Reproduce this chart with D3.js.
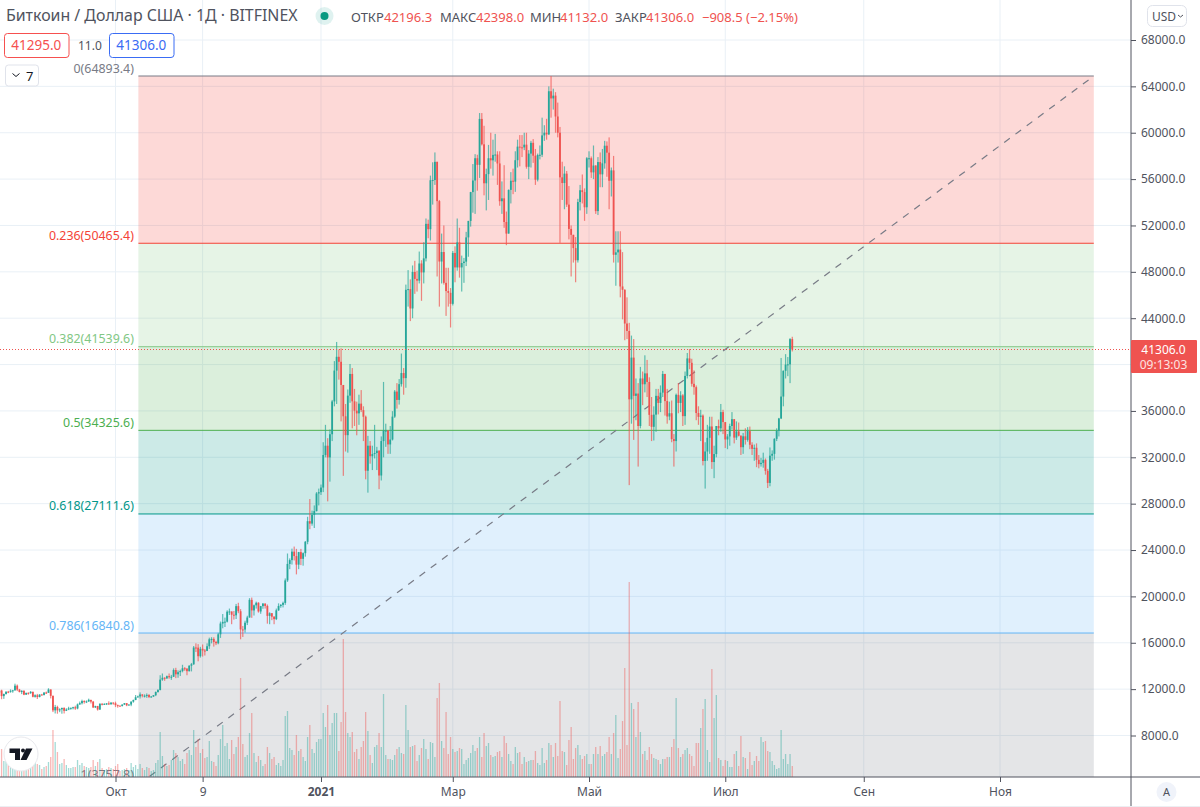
<!DOCTYPE html>
<html>
<head>
<meta charset="utf-8">
<title>BTCUSD</title>
<script src="https://cdn.jsdelivr.net/npm/d3@7"></script>
<style>
  html, body { margin:0; padding:0; background:#fff; }
  svg { display:block; }
  text { font-family:"Noto Sans", Roboto, sans-serif; }
</style>
</head>
<body>
<svg id="chart" width="1200" height="807"></svg>
<script>
// daily candles, 10 Aug 2020 .. 31 Jul 2021, one row per month
var firstDay = Date.UTC(2020, 7, 10)
var firstOpen = 11700

var closes = [
  11880,11400,11580,11780,11770,11860,11900,12300,11960,11750,11860,11520,11680,11660,11770,11340,11470,11320,11530,11480,11710,11680,
  11970,11420,10170,10460,10170,10260,10380,10130,10240,10340,10390,10440,10330,10680,10790,10970,10940,10940,11080,10920,10420,10540,10240,10740,10690,10730,10770,10700,10840,10780,
  10620,10570,10550,10670,10790,10600,10670,10920,11060,11300,11370,11540,11430,11430,11500,11320,11360,11480,11750,11920,12820,12980,12930,13120,13030,13070,13650,13280,13460,13560,13800,
  13760,13550,14020,14150,15590,15580,14840,15480,15330,15300,15700,16300,16330,16070,15960,16730,17660,17800,17820,18680,18700,18420,18370,19160,18720,17150,17140,17730,18180,19700,
  18790,19230,19450,18700,19160,19380,19180,18320,18550,18250,18040,18800,19170,19270,19440,21380,22800,23130,23860,23480,22740,23820,23240,23730,24710,26490,26280,27040,27360,28880,28990,
  29390,32200,33000,31990,33990,36820,39480,40670,40240,38240,35540,33910,37320,39190,36830,36020,35790,36630,36070,35500,30840,33000,32090,32280,32370,32570,30430,33400,34300,34300,33110,
  33530,35510,37670,36950,38310,39270,38830,46450,46510,44840,47990,47390,47240,48720,47950,49160,52140,51680,55900,55920,57490,54100,48890,49710,47050,46340,46190,45240,
  49630,48380,50540,48380,48760,48880,50970,52390,54880,55880,57800,57230,61190,59000,55640,56430,57800,57620,58090,58120,57350,54090,54340,52300,51300,55070,55860,55780,57630,58800,58740,
  58730,58970,57060,58200,59130,58020,55950,58080,58100,59770,60000,59860,63580,62960,63200,61400,60000,56150,55660,56470,53800,51700,51190,50050,49000,54020,55040,54880,53570,57800,
  57800,56580,57170,53240,57470,56410,57360,58880,58280,55860,56750,49470,49680,49920,46740,46450,43540,42900,37000,40600,37300,37500,34700,38800,38300,39240,38500,35660,34630,35680,37300,
  36690,37580,39190,36850,35520,35800,33570,33400,37390,36690,37340,35550,39020,40530,40150,38340,38050,35820,35490,35600,31680,32500,33680,34660,31590,32280,34700,34500,35900,35040,
  33540,33800,34700,35290,33700,34230,33860,32870,33810,33500,34260,33080,32730,32820,31780,31410,31520,31780,30830,29790,32140,32300,33590,34280,35350,37240,39460,40000,40020,42196.3,41306
]
var highs = [
  12060,11950,11620,11800,11850,11980,11940,12470,12400,12020,11900,11890,11690,11720,11830,11780,11550,11590,11560,11590,11720,11790,
  12080,11980,11450,10640,10570,10350,10400,10430,10350,10480,10400,10480,10570,10760,10930,11090,11040,11030,11180,11050,10980,10570,10560,10770,10780,10780,10800,10950,10860,10850,
  10920,10670,10600,10680,10800,10800,10690,10950,11100,11490,11440,11720,11560,11550,11630,11560,11410,11490,11800,12000,13200,13350,13030,13170,13350,13230,13790,13840,13620,13680,14100,
  13900,13820,14060,14260,15720,15950,15880,15650,15850,15460,15950,16440,16480,16470,16170,16860,17830,18480,18170,18800,18950,18700,18740,19350,19450,18900,17450,17900,18330,19850,
  19900,19300,19550,19500,19180,19420,19400,19300,18630,18560,18290,18950,19400,19340,19550,21550,23700,23280,24120,24300,24100,23840,24100,23800,24780,26870,28400,27400,27850,29000,29300,
  29650,33300,34800,33650,34400,36950,40300,41950,41300,41400,38200,36600,37850,40050,39700,37900,36800,37400,37800,36400,35600,33850,33400,33000,34800,32900,32600,33800,38500,34900,34350,
  34700,35980,37800,38400,38750,40950,39700,46900,48150,47350,48550,48950,48100,49750,49000,50550,52600,52500,56300,57450,58300,57500,54200,51300,52000,48350,48350,46600,
  49800,50200,52600,51800,49400,49200,51450,52400,54900,57300,58150,58100,61700,61700,60600,56900,58950,60000,59400,59900,58400,58400,55800,57200,53200,55100,56600,56900,58400,59400,59800,
  59800,60000,60000,58500,59300,59450,58600,58200,58900,61300,60650,61200,64000,64893.4,63800,63500,62600,60500,57500,57100,56700,55400,52000,51200,51000,54300,55500,56400,55200,57900,
  58400,57950,58900,57200,57900,58300,58600,59300,59250,59600,57000,58000,51500,51500,51500,49700,46500,45800,43600,42500,42200,38800,38400,39800,39400,40800,40400,38900,37200,36400,37900,
  37900,38200,39450,39200,37900,36800,36900,34000,37500,38400,37700,37450,39400,41000,41340,40500,39500,38200,36400,36100,35700,33300,34800,35500,35500,33000,34700,35250,36600,36100,
  35000,34000,34900,35900,35300,35100,35000,33900,34100,34500,34600,34650,33300,33100,33200,32200,31950,32400,31900,31000,32850,32600,33650,34500,35400,40570,39500,40900,40650,42280,42398
]
var lows = [
  11480,11130,11160,11530,11650,11690,11690,11860,11830,11720,11570,11480,11520,11520,11590,11290,11270,11150,11290,11480,11480,11580,
  11680,11200,10020,9900,9880,10010,9880,9900,10110,10190,10220,10250,10210,10260,10650,10680,10750,10800,10890,10760,10370,10370,10150,10200,10600,10640,10630,10640,10650,10660,
  10450,10400,10520,10500,10630,10530,10590,10530,10830,11050,11280,11190,11290,11280,11250,11230,11280,11330,11400,11700,11900,12720,12720,12880,12900,12800,13050,12950,12980,13130,13450,
  13580,13200,13520,13530,14090,15200,14400,14720,14810,14900,15280,15470,15950,15670,15800,15870,16420,17250,17360,17750,18400,17600,18000,18050,18550,16300,16500,16880,17530,18170,
  18150,18350,18950,18600,18500,18930,18950,17650,17600,17950,17600,17960,18750,19020,19050,19270,21250,22350,22750,23100,21900,22350,22700,22650,23430,24500,25800,26100,25900,27330,27850,
  28750,29000,32000,28200,29900,33400,36400,36600,38700,35100,30400,32500,32400,36700,34500,34700,33900,34800,35900,33400,30100,28950,31450,30900,31900,30900,29250,30000,32000,32900,32300,
  32300,33450,35400,36200,36550,38100,37400,38000,45000,43750,44000,46100,46300,47000,45500,47000,48900,50900,50700,53800,55500,47600,45000,47000,46900,44200,45000,43200,
  45100,47100,48100,47500,46300,47050,48500,49300,51900,53100,53000,55000,56100,58900,54600,53300,54200,56900,56300,57500,55500,53700,53000,51800,50300,51300,53900,54700,54900,57000,57100,
  57900,58500,56900,56000,57000,57400,55500,55800,57700,57900,59300,59400,59800,61300,62000,60000,59600,50500,54200,53400,53600,50800,47600,48800,47100,48800,53300,53900,52400,53000,
  57000,56100,56000,53000,52900,55300,55300,56900,56200,53400,54500,48800,46800,48800,45800,43900,42100,42200,29600,34900,33500,35200,31200,34500,36500,37600,37200,34700,33400,33450,34200,
  35700,35900,37200,35600,34900,35200,33300,31200,32500,35800,35900,34700,34800,38800,39600,38100,37400,35200,34800,33400,31300,29300,31700,32300,31000,30200,32000,33900,34200,34000,
  32800,32700,33000,34400,33200,33500,33800,32200,32300,33100,33350,32700,32200,31700,31150,31050,31200,31100,30500,29350,29500,31700,31800,33400,33800,35300,36400,38800,39000,38400,41132
]
var volumes = [
  20,28,16,17,12,12,11,22,19,18,13,15,10,9,10,17,16,13,12,8,10,11,
  15,20,47,35,25,13,14,18,12,9,9,10,10,17,12,14,11,10,9,10,17,11,15,18,9,7,8,10,9,8,
  11,13,6,7,8,9,7,14,10,12,8,13,9,7,10,9,6,7,14,17,45,21,13,11,12,17,27,24,20,16,18,
  13,24,27,22,47,30,38,24,28,19,20,36,16,15,11,22,38,52,31,34,18,37,23,30,40,99,33,20,22,44,
  64,24,15,21,17,11,13,30,24,18,20,12,14,11,17,61,66,29,27,22,42,26,28,20,16,40,52,28,24,35,38,
  38,64,50,72,42,54,64,64,26,55,138,65,44,40,45,25,28,18,30,36,65,46,22,14,30,32,44,30,83,22,18,
  18,17,22,28,30,24,23,72,47,30,31,32,16,22,29,38,28,18,35,34,20,79,94,36,29,65,23,40,
  28,25,26,29,28,13,17,19,24,32,26,29,40,20,44,31,34,22,20,21,25,26,20,41,34,23,16,13,30,24,25,
  13,20,15,16,17,17,26,14,12,29,14,17,34,32,20,34,21,76,26,25,12,37,50,18,29,32,22,18,21,23,
  13,13,23,30,23,31,21,23,25,40,23,44,62,19,28,56,109,32,195,74,68,40,75,45,23,26,17,30,23,19,18,
  17,13,18,18,20,20,30,38,79,29,20,23,27,29,23,21,11,34,34,49,68,78,27,15,108,59,82,19,17,11,
  17,16,10,10,23,26,11,41,20,19,8,25,12,16,21,16,40,35,36,26,25,16,12,8,9,47,18,23,13,23,11
]

// fib retracement
var fibRatios = ["0", "0.236", "0.382", "0.5", "0.618", "0.786", "1"]
var fibPrices = [64893.4, 50465.4, 41539.6, 34325.6, 27111.6, 16840.8, 3757.8]
var fibColors = ["#787b86", "#f44336", "#81c784", "#4caf50", "#009688", "#64b5f6", "#787b86"]

var priceTicks = [68000, 64000, 60000, 56000, 52000, 48000, 44000, 40000, 36000, 32000, 28000, 24000, 20000, 16000, 12000, 8000]
var timeTickDays = [[2020,9,1], [2020,10,9], [2021,0,1], [2021,2,1], [2021,4,1], [2021,6,1], [2021,8,1], [2021,10,1]]
var timeTickLabels = ["Окт", "9", "2021", "Мар", "Май", "Июл", "Сен", "Ноя"]

var legendLabels = ["ОТКР", "МАКС", "МИН", "ЗАКР"]
var legendValues = ["42196.3", "42398.0", "41132.0", "41306.0"]

var UP = "#26a69a", DOWN = "#ef5350", TEXT = "#50535e"
var paneW = 1131, paneH = 777

var svg = d3.select("#chart")

var x = d3.scaleUtc()
  .domain([Date.UTC(2020, 9, 1), Date.UTC(2021, 10, 1)])
  .range([115.5, 1000])
var y = d3.scaleLinear()
  .domain([8000, 68000])
  .range([735.5, 40])
var yVol = d3.scaleLinear()
  .domain([0, 195])
  .range([paneH, paneH - 195])

var candles = closes.map(function(c, i) {
  return {
    day: firstDay + i * 864e5,
    open: i ? closes[i - 1] : firstOpen,
    close: c,
    high: highs[i],
    low: lows[i],
    vol: volumes[i]
  }
})
var tickDates = timeTickDays.map(function(d) { return new Date(Date.UTC(d[0], d[1], d[2])) })

svg.append("defs").append("clipPath").attr("id", "pane")
  .append("rect").attr("width", paneW).attr("height", paneH)

var pane = svg.append("g").attr("clip-path", "url(#pane)")

// grid
pane.selectAll(".hgrid").data(priceTicks).enter().append("line")
  .attr("x1", 0).attr("x2", paneW)
  .attr("y1", function(d) { return y(d) }).attr("y2", function(d) { return y(d) })
  .attr("stroke", "#e9f0f6")
pane.selectAll(".vgrid").data(tickDates).enter().append("line")
  .attr("y1", 0).attr("y2", paneH)
  .attr("x1", function(d) { return x(d) }).attr("x2", function(d) { return x(d) })
  .attr("stroke", "#e9f0f6")

// fib bands and lines
var fibStart = Date.UTC(2020, 9, 11, 6), fibEnd = Date.UTC(2021, 11, 13)
var fibIdx = d3.range(fibPrices.length)

pane.selectAll(".band").data(fibIdx.slice(1)).enter().append("rect")
  .attr("x", x(fibStart)).attr("width", x(fibEnd) - x(fibStart))
  .attr("y", function(i) { return y(fibPrices[i - 1]) })
  .attr("height", function(i) { return y(fibPrices[i]) - y(fibPrices[i - 1]) })
  .attr("fill", function(i) { return fibColors[i] })
  .attr("fill-opacity", 0.2)

pane.selectAll(".fibline").data(fibIdx).enter().append("line")
  .attr("x1", x(fibStart)).attr("x2", x(fibEnd))
  .attr("y1", function(i) { return y(fibPrices[i]) }).attr("y2", function(i) { return y(fibPrices[i]) })
  .attr("stroke", function(i) { return fibColors[i] })

pane.selectAll(".fiblabel").data(fibIdx).enter().append("text")
  .attr("x", x(fibStart) - 4.5)
  // the last label is cut by the time axis, kept just clear of its text
  .attr("y", function(i) { return y(fibPrices[i]) - (i === 6 ? 5.5 : 3.5) })
  .attr("text-anchor", "end")
  .attr("font-size", 12.4)
  .attr("fill", function(i) { return fibColors[i] })
  .text(function(i) { return fibRatios[i] + "(" + fibPrices[i].toFixed(1) + ")" })

// trend line of the fib tool
pane.append("line")
  .attr("x1", x(fibStart)).attr("y1", y(fibPrices[6]))
  .attr("x2", x(fibEnd)).attr("y2", y(fibPrices[0]))
  .attr("stroke", "#787b86")
  .attr("stroke-width", 1.2)
  .attr("stroke-dasharray", "7 7")

// volume
pane.selectAll(".vol").data(candles).enter().append("rect")
  .attr("x", function(d) { return x(d.day) - 0.65 })
  .attr("width", 1.3)
  .attr("y", function(d) { return yVol(d.vol) })
  .attr("height", function(d) { return paneH - yVol(d.vol) })
  .attr("fill", function(d) { return d.close >= d.open ? UP : DOWN })
  .attr("fill-opacity", 0.42)

// candles
var candle = pane.selectAll(".candle").data(candles).enter().append("g")
  .attr("fill", function(d) { return d.close >= d.open ? UP : DOWN })
candle.append("rect")
  .attr("x", function(d) { return x(d.day) - 0.6 })
  .attr("width", 1.2)
  .attr("y", function(d) { return y(d.high) })
  .attr("height", function(d) { return y(d.low) - y(d.high) })
  .attr("fill-opacity", 0.7)
candle.append("rect")
  .attr("x", function(d) { return x(d.day) - 0.9 })
  .attr("width", 1.8)
  .attr("y", function(d) { return y(Math.max(d.open, d.close)) })
  .attr("height", function(d) { return Math.max(1, Math.abs(y(d.open) - y(d.close))) })

// last price line
var last = candles[candles.length - 1]
pane.append("line")
  .attr("x1", 0).attr("x2", paneW)
  .attr("y1", 349.5).attr("y2", 349.5)
  .attr("stroke", DOWN)
  .attr("stroke-dasharray", "1 2")

// axes
var priceAxis = d3.axisRight(y)
  .tickValues(priceTicks.filter(function(d) { return d !== 40000 })) // 40000 sits under the price tag
  .tickFormat(function(d) { return d.toFixed(1) })
  .tickSize(5).tickPadding(5)
var gy = svg.append("g").attr("transform", "translate(" + paneW + ",0)").call(priceAxis)
gy.select(".domain").remove()
gy.selectAll("line").attr("stroke", TEXT)
gy.selectAll("text").attr("font-size", 12).attr("fill", TEXT)
  .style("font-family", '"Noto Sans", Roboto, sans-serif')

var timeAxis = d3.axisBottom(x)
  .tickValues(tickDates)
  .tickFormat(function(d, i) { return timeTickLabels[i] })
  .tickSize(5).tickPadding(5)
var gx = svg.append("g").attr("transform", "translate(0," + paneH + ")").call(timeAxis)
gx.select(".domain").remove()
gx.selectAll("line").attr("stroke", TEXT)
gx.selectAll("text").attr("font-size", 12).attr("fill", TEXT)
  .style("font-family", '"Noto Sans", Roboto, sans-serif')
  .attr("font-weight", function(d, i) { return timeTickLabels[i] === "2021" ? 700 : 400 })

svg.append("line").attr("x1", 0).attr("x2", 1200).attr("y1", paneH).attr("y2", paneH).attr("stroke", TEXT)
svg.append("line").attr("x1", paneW).attr("x2", paneW).attr("y1", 0).attr("y2", 807).attr("stroke", TEXT)
svg.append("line").attr("x1", 0).attr("x2", 1200).attr("y1", 806.5).attr("y2", 806.5).attr("stroke", "#eceef2")

// price tag
svg.append("rect").attr("x", paneW).attr("y", 340).attr("width", 66).attr("height", 33)
  .attr("rx", 1).attr("fill", DOWN)
svg.append("text").attr("x", paneW + 32.5).attr("y", 353.5).attr("text-anchor", "middle")
  .attr("font-size", 12).attr("fill", "#fff").text(last.close.toFixed(1))
svg.append("text").attr("x", paneW + 32.5).attr("y", 369).attr("text-anchor", "middle")
  .attr("font-size", 12).attr("fill", "#fde3e2").text("09:13:03")

// header
svg.append("text").attr("x", 6).attr("y", 21).attr("font-size", 15.9).attr("fill", TEXT)
  .text("Биткоин / Доллар США · 1Д · BITFINEX")
svg.append("circle").attr("cx", 324.5).attr("cy", 16).attr("r", 9).attr("fill", UP).attr("fill-opacity", 0.15)
svg.append("circle").attr("cx", 324.5).attr("cy", 16).attr("r", 4).attr("fill", "#089981")

var legendX = [351, 440, 530, 615], legendValX = [384, 476, 560, 646]
legendLabels.forEach(function(l, i) {
  svg.append("text").attr("x", legendX[i]).attr("y", 22).attr("font-size", 13).attr("fill", TEXT).text(l)
  svg.append("text").attr("x", legendValX[i]).attr("y", 22).attr("font-size", 13).attr("fill", DOWN).text(legendValues[i])
})
svg.append("text").attr("x", 702).attr("y", 22).attr("font-size", 13).attr("fill", DOWN)
  .text("−908.5 (−2.15%)")

// order boxes
function box(bx, w, color, label) {
  svg.append("rect").attr("x", bx + 0.5).attr("y", 33.5).attr("width", w).attr("height", 24)
    .attr("rx", 3).attr("fill", "#fff").attr("stroke", color)
  svg.append("text").attr("x", bx + w / 2).attr("y", 50).attr("text-anchor", "middle")
    .attr("font-size", 13.5).attr("fill", color).text(label)
}
box(4, 64.5, "#f6504f", "41295.0")
box(109, 64.5, "#3a6cf4", "41306.0")
svg.append("text").attr("x", 78).attr("y", 50).attr("font-size", 12).attr("fill", TEXT).text("11.0")

// collapse button
svg.append("rect").attr("x", 5.5).attr("y", 65).attr("width", 33).attr("height", 21)
  .attr("rx", 3).attr("fill", "#fff").attr("stroke", "#e0e3eb")
svg.append("path").attr("d", "M12.5 73.5l3.5 3 3.5-3").attr("fill", "none").attr("stroke", "#131722")
svg.append("text").attr("x", 26).attr("y", 80.5).attr("font-size", 13).attr("fill", "#131722").text("7")

// currency button
svg.append("rect").attr("x", 1147.5).attr("y", 5.5).attr("width", 39).attr("height", 21)
  .attr("rx", 5).attr("fill", "#fff").attr("stroke", "#e0e3eb")
svg.append("text").attr("x", 1152).attr("y", 20.5).attr("font-size", 12).attr("fill", TEXT).text("USD")
svg.append("path").attr("d", "M1178 15l2.5 2 2.5-2").attr("fill", "none").attr("stroke", TEXT)

// auto scale
svg.append("circle").attr("cx", 1166.5).attr("cy", 792).attr("r", 10).attr("fill", "#f0f3fa")
svg.append("text").attr("x", 1166.5).attr("y", 796).attr("text-anchor", "middle")
  .attr("font-size", 11).attr("fill", TEXT).text("A")

// logo
svg.append("circle").attr("cx", 21).attr("cy", 754).attr("r", 17)
  .attr("fill", "#fff").attr("stroke", "#e8e9ed")
svg.append("path").attr("fill", "#131722")
  .attr("d", "M9.5 748.5h10.5v11.5h-5v-7h-5.5z M26 748.5h6.5l-6 11.5h-6z")
svg.append("circle").attr("cx", 23).attr("cy", 750.5).attr("r", 2).attr("fill", "#131722")
</script>
</body>
</html>
